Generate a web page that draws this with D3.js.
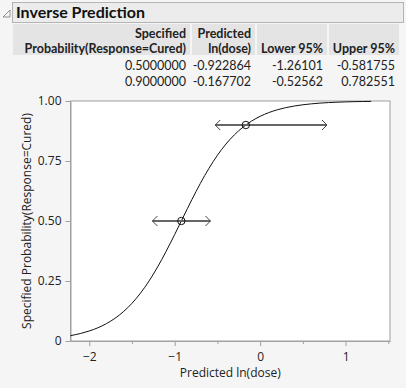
<!DOCTYPE html>
<html><head><meta charset="utf-8">
<script src="https://cdn.jsdelivr.net/npm/d3@7"></script>
<style>
html,body{margin:0;padding:0;background:#f5f5f5;}
svg{display:block;font-family:"Open Sans","Noto Sans",sans-serif;}
</style></head>
<body><svg id="c" width="406" height="388"></svg>
<script>
// ---- data ----
const title = "Inverse Prediction";
const colHeaders = [["Specified","Probability(Response=Cured)"],["Predicted","ln(dose)"],["","Lower 95%"],["","Upper 95%"]];
const specProb = [0.5, 0.9];
const predicted = [-0.922864, -0.167702];
const lower95 = [-1.26101, -0.52562];
const upper95 = [-0.581755, 0.782551];
const rowText = [["0.5000000","-0.922864","-1.26101","-0.581755"],["0.9000000","-0.167702","-0.52562","0.782551"]];
const curveX = [-2.22,-2.1,-2.0,-1.9,-1.8,-1.7,-1.6,-1.5,-1.4,-1.3,-1.2,-1.1,-1.0,-0.9,-0.8,-0.7,-0.6,-0.5,-0.4,-0.3,-0.2,-0.1,0,0.1,0.2,0.3,0.4,0.5,0.6,0.7,0.8,0.9,1.0,1.1,1.2,1.3];
const curveP = [0.0224,0.0315,0.0418,0.0550,0.0723,0.0944,0.1224,0.1572,0.1997,0.2502,0.3087,0.3740,0.4441,0.5166,0.5885,0.6567,0.7190,0.7739,0.8208,0.8596,0.8912,0.9164,0.9362,0.9515,0.9633,0.9723,0.9791,0.9843,0.9882,0.9912,0.9934,0.9951,0.9963,0.9972,0.9979,0.9985];
const xTicks = [-2,-1,0,1];
const xMinor = [-1.5,-0.5,0.5,1.5];
const yTicks = [0,0.25,0.5,0.75,1];
const yTickLabels = ["0","0.25","0.50","0.75","1.00"];
const xTitle = "Predicted ln(dose)";
const yTitle = "Specified Probability(Response=Cured)";

const svg = d3.select("#c");
const hdrFont = "Lato,'Open Sans',sans-serif";

// ---- header ----
svg.append("path").attr("d","M3,17 L10,10 L10,17 Z").attr("fill","none").attr("stroke","#777").attr("stroke-width",0.8);
svg.append("rect").attr("x",12.5).attr("y",2.5).attr("width",391).attr("height",20).attr("fill","#ececec").attr("stroke","#b4b4b4");
svg.append("text").attr("x",16).attr("y",18).attr("font-family",hdrFont).attr("font-size",16).attr("font-weight","bold").attr("fill","#111").text(title);

// table
const colBounds = [[13,190],[192,255],[257,327],[329,399]];
const tbl = svg.append("g").attr("font-family",hdrFont);
colBounds.forEach((b,i)=>{
  tbl.append("rect").attr("x",b[0]).attr("y",24).attr("width",b[1]-b[0]).attr("height",31).attr("fill","#e4e4e4");
  colHeaders[i].forEach((t,j)=>{
    tbl.append("text").attr("x",b[1]-4).attr("y",37.5+j*15).attr("text-anchor","end")
      .attr("font-size",12.5).attr("font-weight","bold").attr("fill","#222").text(t);
  });
  rowText.forEach((r,k)=>{
    tbl.append("text").attr("x",b[1]-4).attr("y",69.5+k*16).attr("text-anchor","end")
      .attr("font-size",12.5).attr("fill","#222").text(r[i]);
  });
});

// ---- plot ----
const L=70.5, T=101, R=390, B=341;
const x = d3.scaleLinear().domain([-2.22,1.52]).range([L,R]);
const y = d3.scaleLinear().domain([0,1]).range([B,T]);

svg.append("rect").attr("x",L).attr("y",T).attr("width",R-L).attr("height",B-T).attr("fill","#fff").attr("stroke","#a0a0a0");

// axes
const xAxis = svg.append("g").attr("transform",`translate(0,${B})`)
  .call(d3.axisBottom(x).tickValues(xTicks).tickFormat(d3.format("d")).tickSize(5).tickSizeOuter(0));
svg.append("g").attr("transform",`translate(0,${B})`)
  .call(d3.axisBottom(x).tickValues(xMinor).tickFormat("").tickSize(3).tickSizeOuter(0))
  .call(g=>g.select(".domain").remove());
const yAxis = svg.append("g").attr("transform",`translate(${L},0)`)
  .call(d3.axisLeft(y).tickValues(yTicks).tickFormat((d,i)=>yTickLabels[i]).tickSize(5).tickSizeOuter(0));
svg.selectAll(".domain").attr("stroke","#a0a0a0");
svg.selectAll(".tick line").attr("stroke","#a0a0a0");
svg.selectAll(".tick text").attr("font-size",12).attr("fill","#222").attr("font-family","'Open Sans','Noto Sans',sans-serif");
xAxis.selectAll(".tick text").attr("dy","1.0em");
yAxis.selectAll(".tick text").attr("dx","-1px");

svg.append("text").attr("x",(L+R)/2).attr("y",377).attr("text-anchor","middle").attr("font-size",12).attr("fill","#222").text(xTitle);
svg.append("text").attr("transform",`translate(31,${(T+B)/2}) rotate(-90)`).attr("text-anchor","middle").attr("font-size",12).attr("fill","#222").text(yTitle);

// curve
const pts = curveX.map((v,i)=>[v,curveP[i]]);
svg.append("path").datum(pts).attr("fill","none").attr("stroke","#111").attr("stroke-width",1)
  .attr("d",d3.line().x(d=>x(d[0])).y(d=>y(d[1])).curve(d3.curveMonotoneX));

// interval bars
specProb.forEach((p,i)=>{
  const g = svg.append("g");
  const yy = y(p), x0 = x(lower95[i]), x1 = x(upper95[i]);
  g.append("line").attr("x1",x0).attr("x2",x1).attr("y1",yy).attr("y2",yy).attr("stroke","#666").attr("stroke-width",2);
  g.append("path").attr("d",`M${x0+5},${yy-5} L${x0},${yy} L${x0+5},${yy+5}`).attr("fill","none").attr("stroke","#444").attr("stroke-width",1);
  g.append("path").attr("d",`M${x1-5},${yy-5} L${x1},${yy} L${x1-5},${yy+5}`).attr("fill","none").attr("stroke","#444").attr("stroke-width",1);
  g.append("circle").attr("cx",x(predicted[i])).attr("cy",yy).attr("r",3.7).attr("fill","none").attr("stroke","#111").attr("stroke-width",1);
});
</script></body></html>
